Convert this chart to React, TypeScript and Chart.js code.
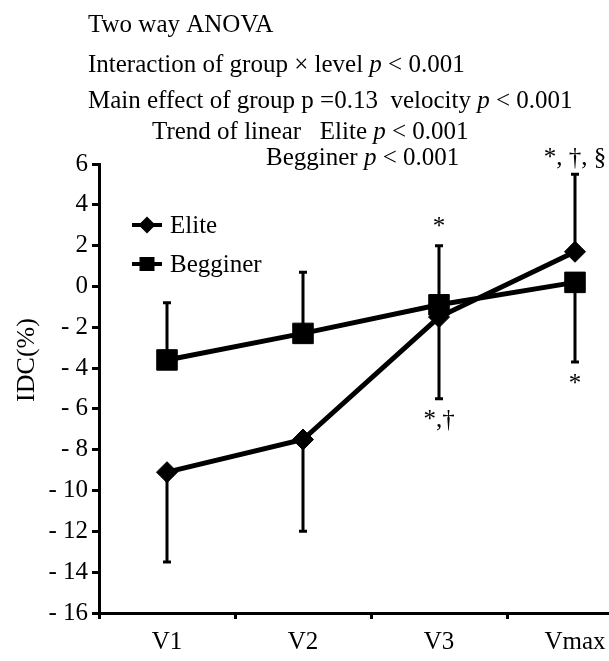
import React, { useEffect, useRef } from 'react';
import { Chart, registerables } from 'chart.js';

Chart.register(...registerables);

// ---- data ----
const categories = ['V1', 'V2', 'V3', 'Vmax'];
const seriesNames = ['Elite', 'Begginer'];
const eliteMean = [-9.1, -7.5, -1.5, 1.7];
// one-sided SD bars (sign = direction)
const eliteErr = [-4.4, -4.5, -4.0, 3.8];
const beginnerMean = [-3.6, -2.3, -0.9, 0.2];
const beginnerErr = [2.8, 3.0, 2.9, -3.9];
const yMin = -16;
const yMax = 6;
const yStep = 2;
const yTitle = 'IDC(%)';
// text with _p_ marking italic p
const anovaLines = [
  'Two way ANOVA',
  'Interaction of group × level _p_ < 0.001',
  'Main effect of group p =0.13  velocity _p_ < 0.001',
  'Trend of linear   Elite _p_ < 0.001',
  'Begginer _p_ < 0.001',
];
const sigTexts = ['*', '*,†', '*', '*, †, §'];
const sigCategories = ['V3', 'V3', 'Vmax', 'Vmax'];
const sigSeries = ['Begginer', 'Elite', 'Begginer', 'Elite'];

// ---- styling / layout ----
const FONT = '"Liberation Serif", "Times New Roman", serif';
const FS = 25;
const anovaX = [88, 88, 88, 152, 266];
const anovaY = [32, 72, 108, 139, 165];
const sigOffsets = [-12, 28, 29, -9];

function drawRich(ctx: CanvasRenderingContext2D, line: string, x: number, y: number, size: number) {
  const parts = line.split('_');
  let cx = x;
  parts.forEach((t, i) => {
    const italic = i % 2 === 1;
    ctx.font = `${italic ? 'italic ' : ''}${size}px ${FONT}`;
    ctx.fillText(t, cx, y);
    cx += ctx.measureText(t).width;
  });
}

const errorBarPlugin = {
  id: 'errorBars',
  beforeDatasetsDraw(chart: any) {
    const ctx = chart.ctx;
    const yScale = chart.scales.y;
    const errs = [eliteErr, beginnerErr];
    const means = [eliteMean, beginnerMean];
    ctx.save();
    ctx.strokeStyle = '#000';
    ctx.lineWidth = 3;
    errs.forEach((err, di) => {
      const meta = chart.getDatasetMeta(di);
      err.forEach((e, j) => {
        const x = meta.data[j].x;
        const y0 = yScale.getPixelForValue(means[di][j]);
        const y1 = yScale.getPixelForValue(means[di][j] + e);
        ctx.beginPath();
        ctx.moveTo(x, y0);
        ctx.lineTo(x, y1);
        ctx.moveTo(x - 4, y1);
        ctx.lineTo(x + 4, y1);
        ctx.stroke();
      });
    });
    ctx.restore();
  },
};

const annotationPlugin = {
  id: 'annotations',
  afterDraw(chart: any) {
    const ctx = chart.ctx;
    const xScale = chart.scales.x;
    const yScale = chart.scales.y;
    ctx.save();
    ctx.fillStyle = '#000';
    ctx.textBaseline = 'alphabetic';
    ctx.textAlign = 'left';
    anovaLines.forEach((l, i) => drawRich(ctx, l, anovaX[i], anovaY[i], FS));

    // significance marks
    ctx.textAlign = 'center';
    ctx.font = `${FS}px ${FONT}`;
    sigTexts.forEach((t, i) => {
      const ci = categories.indexOf(sigCategories[i]);
      const si = seriesNames.indexOf(sigSeries[i]);
      const mean = si === 0 ? eliteMean[ci] : beginnerMean[ci];
      const err = si === 0 ? eliteErr[ci] : beginnerErr[ci];
      const x = xScale.getPixelForValue(ci);
      const y = yScale.getPixelForValue(mean + err) + sigOffsets[i];
      ctx.fillText(t, x, y);
    });

    // y axis title
    ctx.save();
    ctx.translate(27, 360);
    ctx.rotate(-Math.PI / 2);
    ctx.textAlign = 'center';
    ctx.textBaseline = 'middle';
    ctx.font = `26px ${FONT}`;
    ctx.fillText(yTitle, 0, 0);
    ctx.restore();

    // legend
    const rows = [225, 264];
    seriesNames.forEach((name, i) => {
      const y = rows[i];
      ctx.strokeStyle = '#000';
      ctx.lineWidth = 4;
      ctx.beginPath();
      ctx.moveTo(132, y);
      ctx.lineTo(162, y);
      ctx.stroke();
      ctx.beginPath();
      if (i === 0) {
        const r = 8.5;
        ctx.moveTo(147, y - r);
        ctx.lineTo(147 + r, y);
        ctx.lineTo(147, y + r);
        ctx.lineTo(147 - r, y);
        ctx.closePath();
      } else {
        ctx.rect(147 - 7.5, y - 7, 15, 14);
      }
      ctx.fill();
      ctx.textAlign = 'left';
      ctx.textBaseline = 'middle';
      ctx.font = `${FS}px ${FONT}`;
      ctx.fillText(name, 170, y + 1);
    });
    ctx.restore();
  },
};

export default function App() {
  const ref = useRef<HTMLCanvasElement | null>(null);
  useEffect(() => {
    if (!ref.current) return;
    const chart = new Chart(ref.current, {
      type: 'line',
      data: {
        labels: categories,
        datasets: [
          {
            label: seriesNames[0],
            data: eliteMean,
            borderColor: '#000',
            backgroundColor: '#000',
            borderWidth: 5,
            pointStyle: 'rectRot',
            pointRadius: 10.5,
            pointBorderWidth: 1,
            pointBackgroundColor: '#000',
            tension: 0,
          },
          {
            label: seriesNames[1],
            data: beginnerMean,
            borderColor: '#000',
            backgroundColor: '#000',
            borderWidth: 5,
            pointStyle: 'rect',
            pointRadius: 14.5,
            pointBorderWidth: 1,
            pointBackgroundColor: '#000',
            tension: 0,
          },
        ],
      },
      options: {
        animation: false,
        responsive: false,
        devicePixelRatio: 1,
        layout: { padding: { top: 164, right: 37, left: 0, bottom: 0 } },
        plugins: { legend: { display: false }, tooltip: { enabled: false }, title: { display: false } },
        scales: {
          x: {
            type: 'category',
            offset: true,
            grid: { display: true, drawOnChartArea: false, drawTicks: true, tickLength: 6, lineWidth: 3, color: '#000', offset: true },
            border: { display: true, color: '#000', width: 3 },
            ticks: { color: '#000', font: { family: FONT, size: FS }, padding: 8, maxRotation: 0, autoSkip: false },
            afterFit: (s: any) => { s.height = 48; },
          },
          y: {
            type: 'linear',
            min: yMin,
            max: yMax,
            grid: { display: true, drawOnChartArea: false, drawTicks: true, tickLength: 7, lineWidth: 3, color: '#000' },
            border: { display: true, color: '#000', width: 3 },
            ticks: {
              stepSize: yStep,
              color: '#000',
              font: { family: FONT, size: FS },
              padding: 4,
              callback: (v: any) => (Number(v) < 0 ? '- ' + Math.abs(Number(v)) : String(v)),
            },
            afterFit: (s: any) => { s.width = 99; },
          },
        },
      },
      plugins: [errorBarPlugin, annotationPlugin],
    });
    return () => chart.destroy();
  }, []);
  return (
    <div style={{ position: 'absolute', left: 0, top: 0, width: 609, height: 661, overflow: 'hidden', background: '#fff' }}>
      <canvas ref={ref} width={680} height={661} style={{ display: 'block', width: 680, height: 661 }} />
    </div>
  );
}
